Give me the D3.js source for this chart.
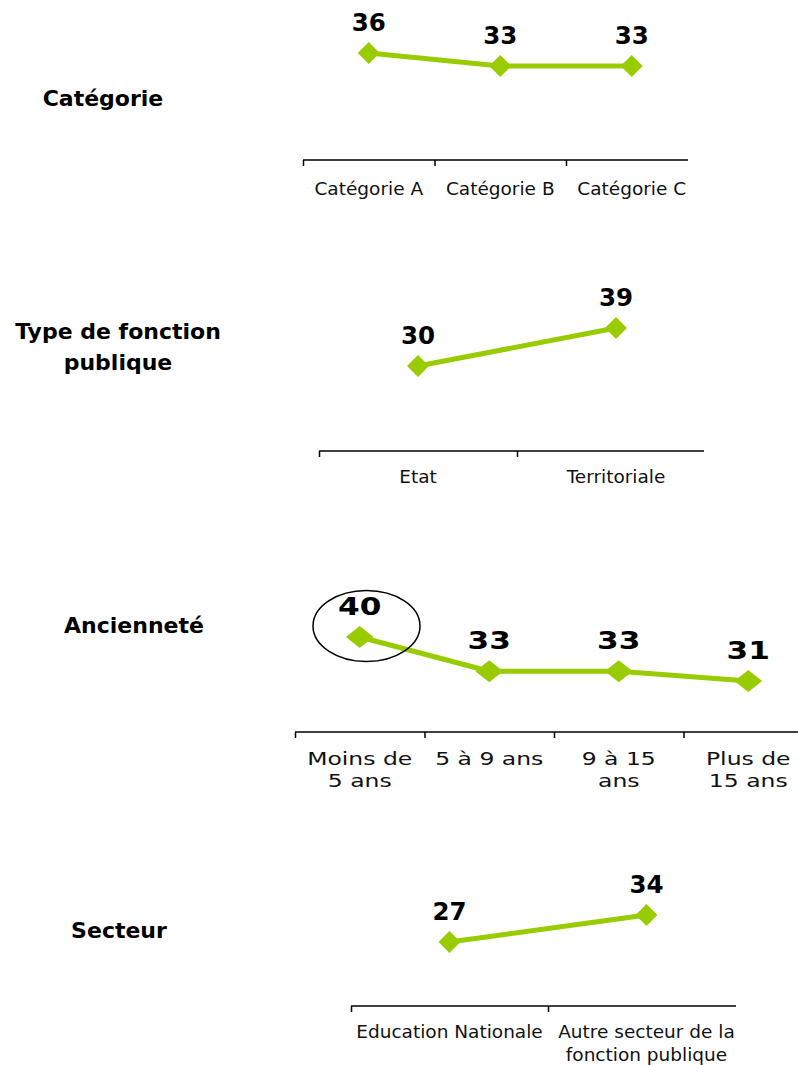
<!DOCTYPE html>
<html>
<head>
<meta charset="utf-8">
<script src="https://cdn.jsdelivr.net/npm/d3@7/dist/d3.min.js"></script>
<style>
  html, body { margin: 0; padding: 0; background: #fff; }
  svg { display: block; }
</style>
</head>
<body>
<svg id="chart" width="798" height="1065"></svg>
<script>
// ---- Data ----
const catCategories = ["Catégorie A", "Catégorie B", "Catégorie C"];
const catValues = [36, 33, 33];

const typeCategories = ["Etat", "Territoriale"];
const typeValues = [30, 39];

const ancCategories = ["Moins de\n5 ans", "5 à 9 ans", "9 à 15\nans", "Plus de\n15 ans"];
const ancValues = [40, 33, 33, 31];

const secCategories = ["Education Nationale", "Autre secteur de la\nfonction publique"];
const secValues = [27, 34];

const panelTitles = [["Catégorie"], ["Type de fonction", "publique"], ["Ancienneté"], ["Secteur"]];

// ---- Layout ----
const GREEN = "#99cc00";
const panels = [
  { title: panelTitles[0], cats: catCategories, vals: catValues,
    x0: 303, bw: 131.5, axisEnd: 688, axisY: 160, yDomain: [30, 40], yRange: [79, 35.67],
    sx: 1, labelOff: 35, titleX: 103, titleY: 106 },
  { title: panelTitles[1], cats: typeCategories, vals: typeValues,
    x0: 319, bw: 198, axisEnd: 704, axisY: 451, yDomain: [25, 40], yRange: [387.1, 323.8],
    sx: 1, labelOff: 32, titleX: 118, titleY: 339 },
  { title: panelTitles[2], cats: ancCategories, vals: ancValues,
    x0: 295, bw: 129.5, axisEnd: 798, axisY: 732, yDomain: [30, 40], yRange: [685.9, 637],
    sx: 1.27, labelOff: 33, titleX: 134, titleY: 633, circle: true },
  { title: panelTitles[3], cats: secCategories, vals: secValues,
    x0: 351, bw: 197, axisEnd: 736, axisY: 1006, yDomain: [25, 35], yRange: [949.7, 911.1],
    sx: 1, labelOff: 32, titleX: 119, titleY: 938 }
];

const svg = d3.select("#chart");
const FONT = "'DejaVu Sans', Verdana, sans-serif";

panels.forEach(p => {
  const g = svg.append("g");
  const n = p.cats.length;

  // Title
  const t = g.append("text")
    .attr("x", p.titleX).attr("y", p.titleY)
    .attr("text-anchor", "middle")
    .attr("font-family", FONT).attr("font-weight", "bold")
    .attr("font-size", "22px").attr("fill", "#000");
  p.title.forEach((line, i) => {
    t.append("tspan").attr("x", p.titleX).attr("dy", i === 0 ? 0 : 31).text(line);
  });

  // Scales
  const x = d3.scaleBand().domain(p.cats).range([p.x0, p.x0 + n * p.bw]).padding(0);
  const xb = d3.scaleLinear().domain([0, n]).range([p.x0, p.x0 + n * p.bw]);
  const y = d3.scaleLinear().domain(p.yDomain).range(p.yRange);

  // Axis ticks (category boundaries)
  const axTicks = g.append("g")
    .attr("transform", `translate(0,${p.axisY})`)
    .call(d3.axisBottom(xb).tickValues(d3.range(0, n)).tickSize(6).tickSizeOuter(0).tickFormat(""));
  axTicks.select(".domain").remove();
  axTicks.selectAll(".tick line").attr("stroke", "#000").attr("stroke-width", 1.5);
  g.append("line")
    .attr("x1", xb(0)).attr("x2", p.axisEnd)
    .attr("y1", p.axisY).attr("y2", p.axisY)
    .attr("stroke", "#000").attr("stroke-width", 1.5);

  // Axis labels (category centres)
  const axLabels = g.append("g")
    .attr("transform", `translate(0,${p.axisY})`)
    .call(d3.axisBottom(x).tickSize(0).tickSizeOuter(0));
  axLabels.select(".domain").remove();
  axLabels.selectAll(".tick text").each(function(d) {
    const el = d3.select(this);
    el.text(null)
      .attr("y", null).attr("dy", null)
      .attr("font-family", FONT).attr("font-size", "18.5px")
      .attr("fill", "#111").attr("text-anchor", "middle")
      .attr("transform", `scale(${p.sx},1)`);
    d.split("\n").forEach((line, i) => {
      el.append("tspan").attr("x", 0).attr("y", p.labelOff + i * 22.5).text(line);
    });
  });

  // Line
  const cx = d => x(d.c) + x.bandwidth() / 2;
  const pts = p.cats.map((c, i) => ({ c, v: p.vals[i] }));
  g.append("path")
    .datum(pts)
    .attr("fill", "none").attr("stroke", GREEN).attr("stroke-width", 5)
    .attr("stroke-linejoin", "round")
    .attr("d", d3.line().x(cx).y(d => y(d.v)));

  // Diamond markers
  const sym = d3.symbol().type(d3.symbolSquare).size(240);
  g.selectAll(".mk").data(pts).enter().append("path")
    .attr("d", sym)
    .attr("fill", GREEN)
    .attr("transform", d => `translate(${cx(d)},${y(d.v)}) scale(${p.sx},1) rotate(45)`);

  // Value labels
  g.selectAll(".vl").data(pts).enter().append("text")
    .attr("transform", d => `translate(${cx(d)},${y(d.v) - 22}) scale(${p.sx},1)`)
    .attr("text-anchor", "middle")
    .attr("font-family", FONT).attr("font-weight", "bold")
    .attr("font-size", "24.5px").attr("fill", "#000")
    .text(d => d.v);

  // Highlight circle on the first point
  if (p.circle) {
    const d0 = pts[0];
    g.append("ellipse")
      .attr("cx", cx(d0) + 6.75).attr("cy", y(d0.v) - 11)
      .attr("rx", 53.5).attr("ry", 35.5)
      .attr("fill", "none").attr("stroke", "#000").attr("stroke-width", 1.5);
  }
});
</script>
</body>
</html>
